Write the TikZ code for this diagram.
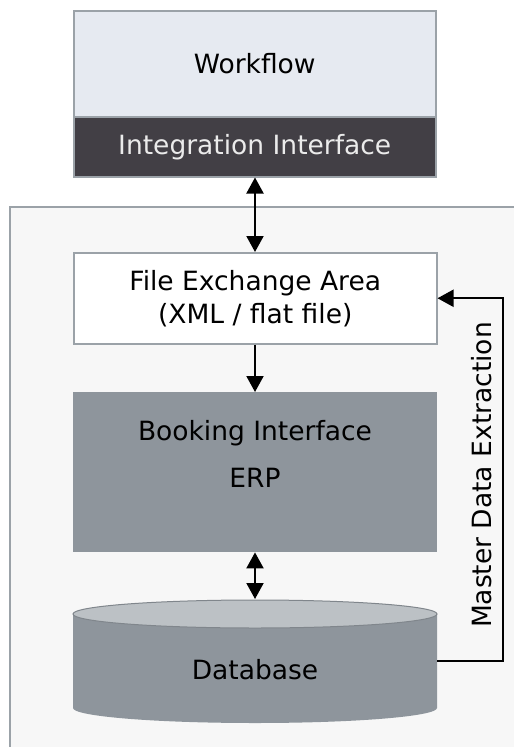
\documentclass[tikz,border=0pt]{standalone}
\usepackage{fontspec}
\setmainfont{DejaVu Sans}
\usetikzlibrary{arrows.meta,calc}
\definecolor{wfblue}{HTML}{E6EAF1}
\definecolor{intdark}{HTML}{423F45}
\definecolor{bordergray}{HTML}{9BA2A8}
\definecolor{outerfill}{HTML}{F7F7F7}
\definecolor{erpgray}{HTML}{8E959C}
\definecolor{dbtop}{HTML}{BCC1C5}
\begin{document}
\begin{tikzpicture}[x=1pt,y=-1pt,
  txt/.style={font=\fontsize{26.5}{33}\selectfont},
  boxnode/.style={draw=bordergray,line width=1.5pt,anchor=north west,inner sep=0pt,txt},
  tip/.style={Triangle[width=17pt,length=16pt]},
  arr/.style={line width=2pt,-{Triangle[width=17pt,length=16pt]}},
  darr/.style={line width=2pt,{Triangle[width=17pt,length=16pt]}-{Triangle[width=17pt,length=16pt]}}]
\useasboundingbox (0,0) rectangle (514,747);
\begin{scope}
\clip (0,0) rectangle (514,747);
\path[fill=outerfill,draw=bordergray,line width=1.5pt] (10,207) rectangle (530,770);
\end{scope}
\node[boxnode,fill=wfblue,minimum width=362pt,minimum height=106pt] (wf) at (73,10) {Workflow};
\node[boxnode,fill=intdark,text=white!92!black,minimum width=362pt,minimum height=60pt] (int) at (73,116) {Integration Interface};
\node[boxnode,fill=white,minimum width=363pt,minimum height=91pt,align=center] (fea) at (73,252) {File Exchange Area\\(XML / flat file)};
\node[anchor=north west,fill=erpgray,inner sep=0pt,minimum width=364pt,minimum height=160pt] (erp) at (73,392) {};
\node[txt] (booking) at (255,433) {Booking Interface};
\node[txt] (erplbl) at (255,478) {ERP};
% database cylinder
\node[anchor=north west,inner sep=0pt,minimum width=364pt,minimum height=124pt] (db) at (73,599) {};
\fill[erpgray] (73,614) -- (73,708) arc[start angle=180,end angle=0,x radius=182,y radius=15] -- (437,614) -- cycle;
\filldraw[fill=dbtop,draw=erpgray!90!black,line width=1pt] (255,614) ellipse[x radius=182,y radius=14];
\node[txt] (dblbl) at (255,670) {Database};
% connectors
\draw[darr] (int.south -| 255,0) -- (fea.north -| 255,0);
\draw[arr] (fea.south -| 255,0) -- (erp.north -| 255,0);
\draw[darr] (erp.south -| 255,0) -- (db.north -| 255,0);
\draw[arr] (db.east) -- ++(66,0) |- (fea.east);
\node[txt,rotate=90] (mde) at (482,475) {Master Data Extraction};
\end{tikzpicture}
\end{document}
